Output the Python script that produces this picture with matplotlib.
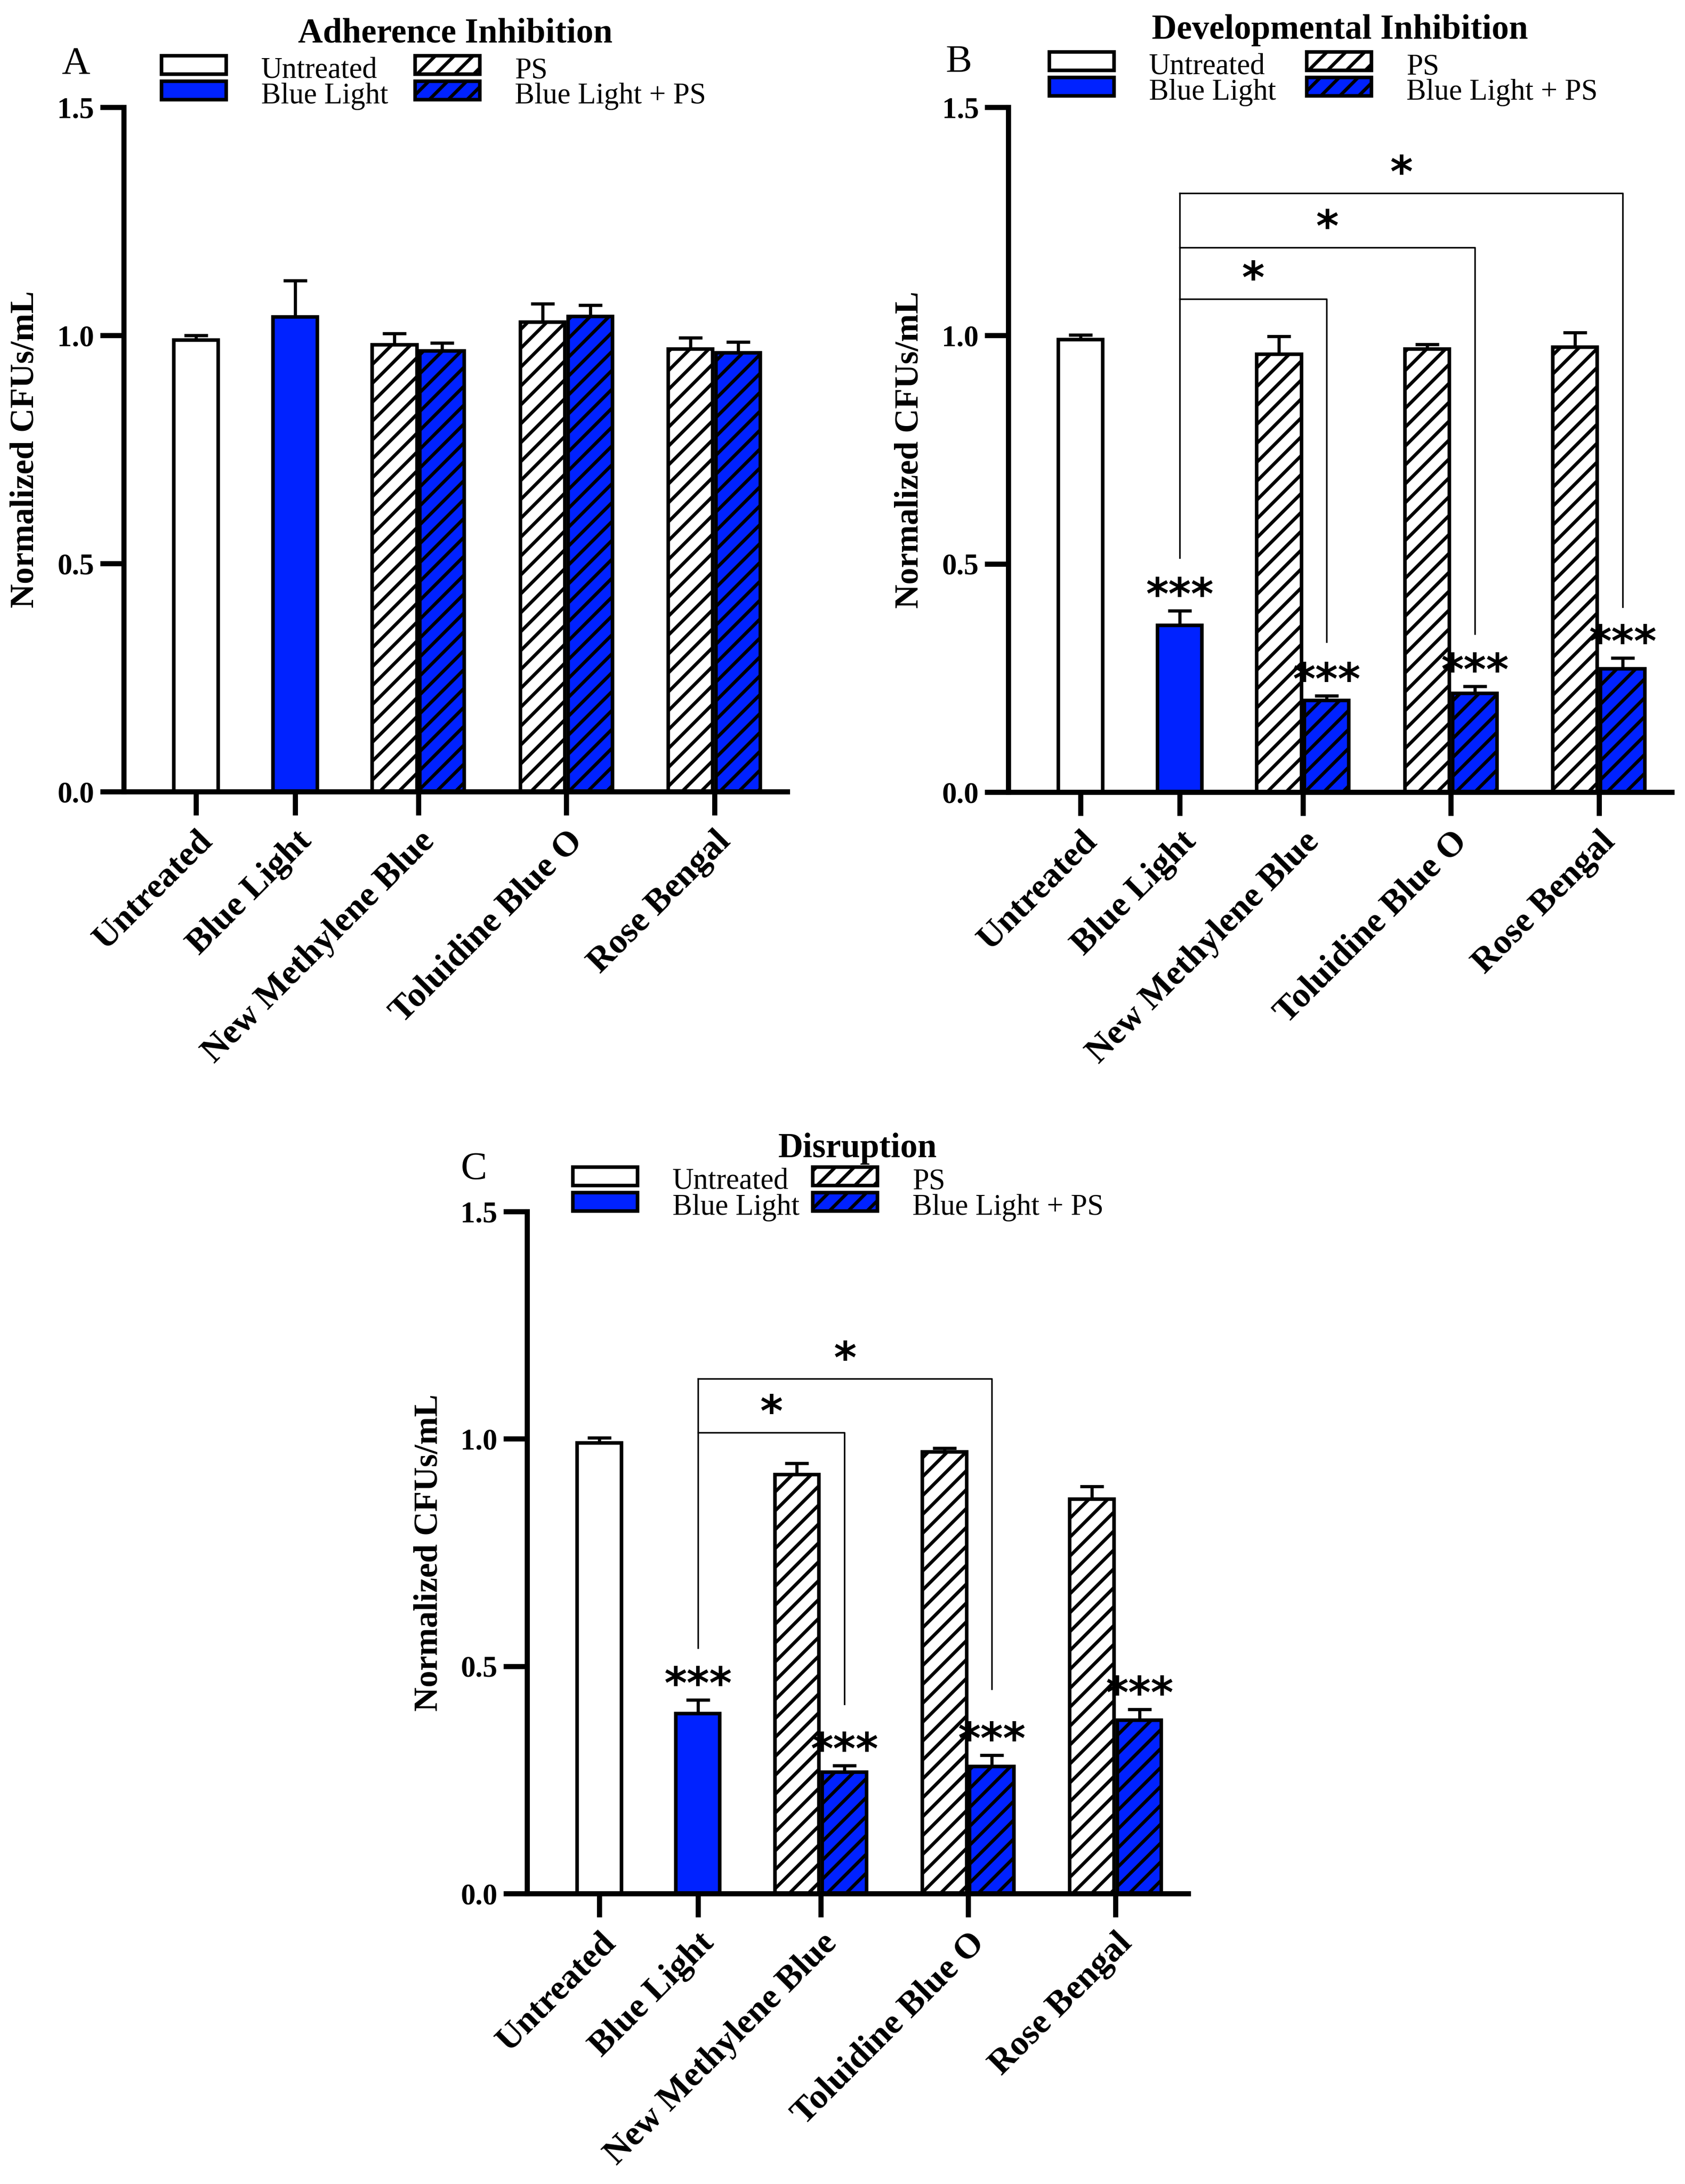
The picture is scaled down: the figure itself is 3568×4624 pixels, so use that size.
import matplotlib
matplotlib.use('Agg')
import matplotlib.pyplot as plt
from matplotlib.patches import Rectangle
import numpy as np

W, H = 3568, 4624
# dpi chosen so that the '//' hatch spacing matches the reference (~20 px)
DPI = 240
K = 300 / DPI   # sizes below were tuned for 300 dpi

plt.rcParams['font.family'] = ['Liberation Serif', 'DejaVu Serif']
plt.rcParams['hatch.linewidth'] = 1.7 * K

BLUE = '#0022ff'

# ---- data ----
categories = ['Untreated', 'Blue Light', 'New Methylene Blue', 'Toluidine Blue O', 'Rose Bengal']
legend_labels = ['Untreated', 'Blue Light', 'PS', 'Blue Light + PS']

# A: adherence inhibition  (ctrl = Untreated, Blue Light)
adh_ctrl = [0.990, 1.040]
adh_ctrl_err = [0.010, 0.080]
adh_ps = [0.979, 1.029, 0.970]
adh_ps_err = [0.025, 0.040, 0.025]
adh_blps = [0.966, 1.041, 0.962]
adh_blps_err = [0.017, 0.025, 0.023]

# B: developmental inhibition
dev_ctrl = [0.991, 0.365]
dev_ctrl_err = [0.010, 0.032]
dev_ps = [0.959, 0.970, 0.975]
dev_ps_err = [0.039, 0.011, 0.032]
dev_blps = [0.201, 0.216, 0.270]
dev_blps_err = [0.010, 0.016, 0.024]
dev_sig_ctrl = ['', '***']
dev_sig_blps = ['***', '***', '***']
dev_bracket_y = [1.080, 1.193, 1.312]
dev_bracket_drop = [0.329, 0.347, 0.406]
dev_bracket_base = 0.513
dev_bracket_sig = ['*', '*', '*']

# C: disruption
dis_ctrl = [0.991, 0.396]
dis_ctrl_err = [0.011, 0.030]
dis_ps = [0.921, 0.971, 0.867]
dis_ps_err = [0.025, 0.009, 0.028]
dis_blps = [0.267, 0.279, 0.381]
dis_blps_err = [0.015, 0.025, 0.024]
dis_sig_ctrl = ['', '***']
dis_sig_blps = ['***', '***', '***']
dis_bracket_y = [1.014, 1.132]
dis_bracket_drop = [0.417, 0.450]
dis_bracket_base = 0.540
dis_bracket_sig = ['*', '*']

# ---- layout ----
xpos = np.array([1.58, 3.74, 6.43, 9.66, 12.89])
xmax = 14.48
bw = 0.97
off = 0.52
STAR_FONT = ['DejaVu Sans']
STAR_SIZE = 22 * K


def fx(p):
    return p / W


def fy(p):
    return 1 - p / H


def make_axes(fig, l, t, r, b):
    return fig.add_axes([fx(l), fy(b), (r - l) / W, (b - t) / H])


def draw_panel(ax, ctrl, ctrl_err, ps, ps_err, blps, blps_err):
    lw = 1.8 * K
    ax.bar(xpos[0], ctrl[0], width=bw, color='white', edgecolor='black', linewidth=lw, zorder=2)
    ax.bar(xpos[1], ctrl[1], width=bw, color=BLUE, edgecolor='black', linewidth=lw, zorder=2)
    ax.bar(xpos[2:] - off, ps, width=bw, color='white', edgecolor='black', linewidth=lw,
           hatch='//', zorder=2)
    ax.bar(xpos[2:] + off, blps, width=bw, color=BLUE, edgecolor='black', linewidth=lw,
           hatch='//', zorder=2)

    xs = np.concatenate([xpos[:2], xpos[2:] - off, xpos[2:] + off])
    ys = np.concatenate([ctrl, ps, blps])
    es = np.concatenate([ctrl_err, ps_err, blps_err])
    ax.errorbar(xs, ys, yerr=[np.zeros_like(es), es], fmt='none', ecolor='black',
                elinewidth=1.6 * K, capsize=6 * K, capthick=1.6 * K, zorder=1)

    ax.set_xlim(0, xmax)
    ax.set_ylim(0, 1.5)
    ax.set_yticks([0, 0.5, 1.0, 1.5])
    ax.set_yticklabels(['0.0', '0.5', '1.0', '1.5'], fontweight='bold', fontsize=15 * K)
    ax.set_xticks(xpos)
    ax.set_xticklabels(categories, rotation=45, ha='right', rotation_mode='anchor',
                       fontweight='bold', fontsize=18 * K)
    ax.tick_params(axis='both', direction='out', length=12 * K, width=2.6 * K, pad=3 * K)
    ax.tick_params(axis='x', pad=5 * K)
    for s in ['top', 'right']:
        ax.spines[s].set_visible(False)
    for s in ['left', 'bottom']:
        ax.spines[s].set_linewidth(2.6 * K)
    ax.set_ylabel('Normalized CFUs/mL', fontweight='bold', fontsize=17 * K)
    ax.yaxis.set_label_coords(-0.125, 0.5)


def draw_sig(ax, ctrl, ctrl_err, blps, blps_err, sig_ctrl, sig_blps):
    for i in range(2):
        if sig_ctrl[i]:
            ax.text(xpos[i], ctrl[i] + ctrl_err[i] + 0.03, sig_ctrl[i], ha='center', va='center',
                    fontsize=STAR_SIZE, fontweight='bold', family=STAR_FONT)
    for i in range(3):
        if sig_blps[i]:
            ax.text(xpos[2 + i] + off, blps[i] + blps_err[i] + 0.03, sig_blps[i], ha='center',
                    va='center', fontsize=STAR_SIZE, fontweight='bold', family=STAR_FONT)


def draw_brackets(ax, heights, drops, base, sigs):
    x0 = xpos[1]
    ax.plot([x0, x0], [base, max(heights)], color='black', lw=0.8 * K, clip_on=False)
    for i, (h, d, s) in enumerate(zip(heights, drops, sigs)):
        x1 = xpos[2 + i] + off
        ax.plot([x0, x1, x1], [h, h, d], color='black', lw=0.8 * K, clip_on=False)
        ax.text((x0 + x1) / 2, h + 0.04, s, ha='center', va='center', fontsize=STAR_SIZE,
                fontweight='bold', family=STAR_FONT)


def draw_legend(fig, x0, y0, col2):
    bwid, bh, row = 137, 39, 54
    styles = [('white', None), (BLUE, None), ('white', '//'), (BLUE, '//')]
    for k, (lab, (fc, hatch)) in enumerate(zip(legend_labels, styles)):
        cx = x0 + (col2 if k >= 2 else 0)
        cy = y0 + row * (k % 2)
        rect = Rectangle((fx(cx), fy(cy + bh)), bwid / W, bh / H, transform=fig.transFigure,
                         facecolor=fc, edgecolor='black', linewidth=1.8 * K, hatch=hatch)
        fig.add_artist(rect)
        fig.text(fx(cx + 211), fy(cy + 47), lab, ha='left', va='baseline', fontsize=15 * K)


fig = plt.figure(figsize=(W / DPI, H / DPI), dpi=DPI)

# panel A
axA = make_axes(fig, 262, 227, 1667, 1676)
draw_panel(axA, adh_ctrl, adh_ctrl_err, adh_ps, adh_ps_err, adh_blps, adh_blps_err)
fig.text(fx((262 + 1667) / 2), fy(90), 'Adherence Inhibition', ha='center', va='baseline',
         fontsize=17.5 * K, fontweight='bold')
fig.text(fx(130), fy(155), 'A', ha='left', va='baseline', fontsize=20 * K)
draw_legend(fig, 342, 118, 537)

# panel B
axB = make_axes(fig, 2135, 227, 3540, 1677)
draw_panel(axB, dev_ctrl, dev_ctrl_err, dev_ps, dev_ps_err, dev_blps, dev_blps_err)
draw_sig(axB, dev_ctrl, dev_ctrl_err, dev_blps, dev_blps_err, dev_sig_ctrl, dev_sig_blps)
draw_brackets(axB, dev_bracket_y, dev_bracket_drop, dev_bracket_base, dev_bracket_sig)
fig.text(fx((2135 + 3540) / 2), fy(82), 'Developmental Inhibition', ha='center', va='baseline',
         fontsize=17.5 * K, fontweight='bold')
fig.text(fx(2003), fy(152), 'B', ha='left', va='baseline', fontsize=20 * K)
draw_legend(fig, 2222, 110, 545)

# panel C
axC = make_axes(fig, 1116, 2565, 2516, 4009)
draw_panel(axC, dis_ctrl, dis_ctrl_err, dis_ps, dis_ps_err, dis_blps, dis_blps_err)
draw_sig(axC, dis_ctrl, dis_ctrl_err, dis_blps, dis_blps_err, dis_sig_ctrl, dis_sig_blps)
draw_brackets(axC, dis_bracket_y, dis_bracket_drop, dis_bracket_base, dis_bracket_sig)
fig.text(fx((1116 + 2516) / 2), fy(2450), 'Disruption', ha='center', va='baseline',
         fontsize=17.5 * K, fontweight='bold')
fig.text(fx(976), fy(2496), 'C', ha='left', va='baseline', fontsize=20 * K)
draw_legend(fig, 1213, 2471, 508)

fig.savefig('out.png', dpi=DPI)
